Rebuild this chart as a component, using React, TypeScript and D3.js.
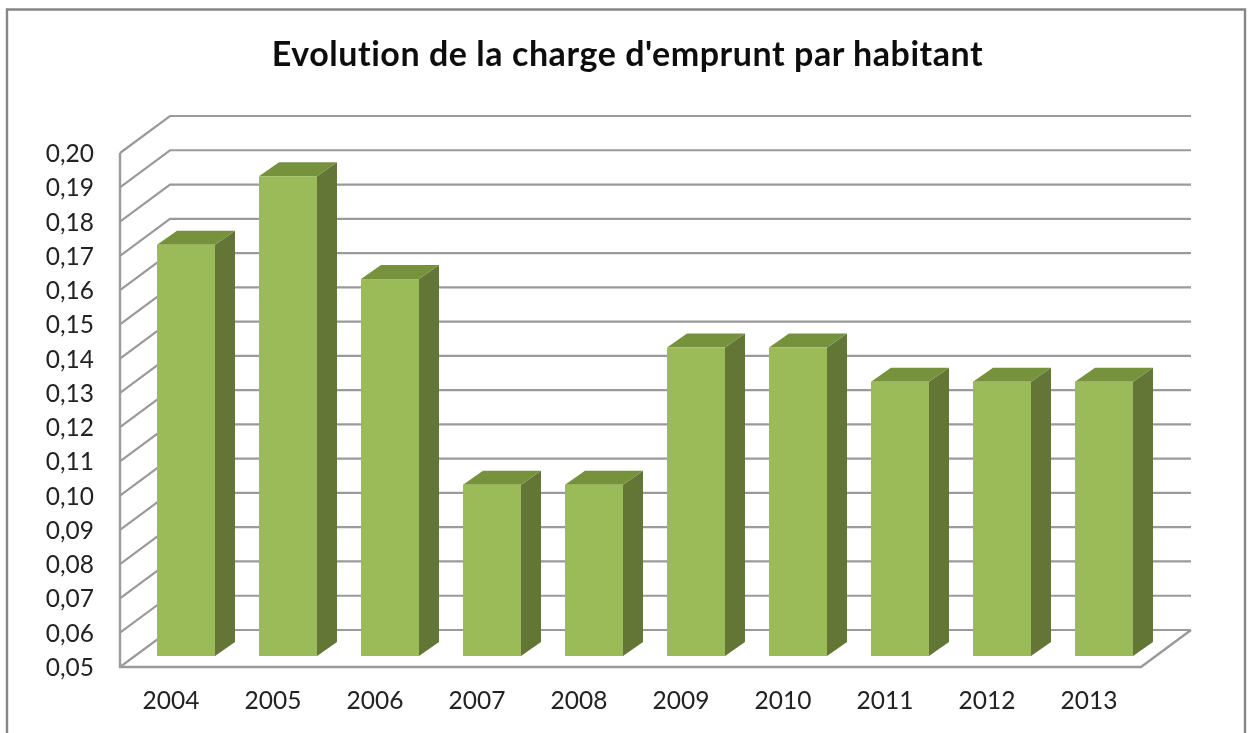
import React from "react";
import * as d3 from "d3";

const categories = ["2004","2005","2006","2007","2008","2009","2010","2011","2012","2013"];
const values = [0.17,0.19,0.16,0.10,0.10,0.14,0.14,0.13,0.13,0.13];
const ticks = [0.05,0.06,0.07,0.08,0.09,0.10,0.11,0.12,0.13,0.14,0.15,0.16,0.17,0.18,0.19,0.20];
const title = "Evolution de la charge d'emprunt par habitant";

const W = 1252, H = 733;
const FONT = "Lato, 'Open Sans', sans-serif";
const GRID = "#9a9a9a";
const y = d3.scaleLinear().domain([0.05, 0.2]).range([667, 153]);
const x = d3.scalePoint().domain(categories).range([157, 1075]);
const wallDx = 50, wallDy = -37;
const barDx = 20, barDy = -14, barLift = -11;

export default function App() {
  const x0 = 120, x1 = 1141;
  const bw = 58;
  return (
    <svg width={W} height={H} viewBox={`0 0 ${W} ${H}`}
      style={{ position: "fixed", left: 0, top: 0, background: "#fff" }}>
      <defs>
        <filter id="soft" x="-2%" y="-2%" width="104%" height="104%">
          <feGaussianBlur stdDeviation="0.45" />
        </filter>
      </defs>
      <g filter="url(#soft)">
        <path d={`M7 733 V9.5 H1245 V733`} fill="none" stroke="#858585" strokeWidth={2.4} />
        <text x={627.5} y={66} textAnchor="middle" fontFamily={FONT} fontWeight={700} fontSize={34} letterSpacing={0.55}
          style={{ fontVariantLigatures: "none" }} fill="#111">{title}</text>

        {ticks.map(t => (
          <path key={t}
            d={`M${x0} ${y(t)} L${x0 + wallDx} ${y(t) + wallDy} H${x1 + wallDx}`}
            fill="none" stroke={GRID} strokeWidth={2.2} />
        ))}
        <path d={`M${x0} ${y(0.2)} V${y(0.05)} H${x1} L${x1 + wallDx} ${y(0.05) + wallDy}`}
          fill="none" stroke={GRID} strokeWidth={2.4} />

        {ticks.map(t => (
          <text key={t} x={94} y={y(t) + 9} textAnchor="end" fontFamily={FONT} fontSize={24.5} fill="#222">
            {d3.format(".2f")(t).replace(".", ",")}
          </text>
        ))}

        {categories.map((c, i) => {
          const left = x(c)!;
          const base = y(0.05) + barLift;
          const top = y(values[i]) + barLift;
          return (
            <g key={c}>
              <path d={`M${left + bw} ${top} l${barDx} ${barDy} V${base + barDy} l${-barDx} ${-barDy} Z`} fill="#647636" />
              <path d={`M${left} ${top} l${barDx} ${barDy} h${bw} l${-barDx} ${-barDy} Z`} fill="#76923c" />
              <rect x={left} y={top} width={bw} height={base - top} fill="#9bbb59" />
              <text x={left + 14} y={709} textAnchor="middle" fontFamily={FONT} fontSize={24.5} fill="#222">{c}</text>
            </g>
          );
        })}
      </g>
    </svg>
  );
}
